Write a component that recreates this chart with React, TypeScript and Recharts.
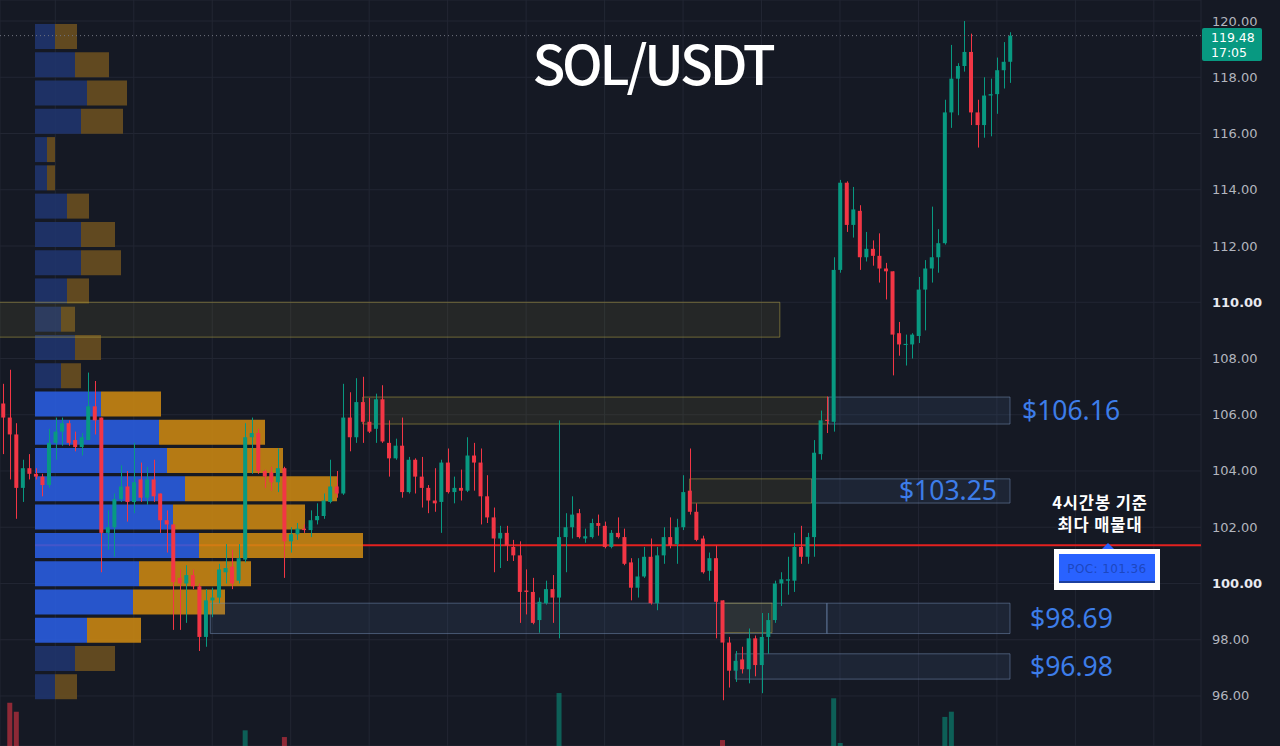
import React from "react";
import { Bar, CartesianGrid, Cell, ComposedChart, ReferenceArea, ReferenceLine, XAxis, YAxis } from "recharts";

// SOL/USDT 4h candles with a volume profile on the left

const W = 1280;
const H = 746;
const AXIS_W = 79;

const UP = "#089981";
const DOWN = "#f23645";
const BG = "#151924";
const GRID = "#222633";

// [open, high, low, close]
const ohlc: [number, number, number, number][] = [
  [106.4, 107.1, 104.6, 105.9], [105.9, 107.6, 103.7, 105.3], [105.3, 105.7, 102.3, 103.4], [103.4, 104.4, 102.9, 104.1],
  [104.1, 104.6, 103.7, 103.9], [103.9, 104.1, 103.7, 103.8], [103.8, 103.9, 103.1, 103.5], [103.5, 105.5, 103.4, 105.0],
  [105.0, 105.9, 104.4, 105.4], [105.4, 105.9, 104.9, 105.7], [105.7, 105.8, 104.9, 105.0], [105.1, 105.4, 104.7, 104.85],
  [104.85, 105.35, 104.55, 105.2], [105.1, 107.5, 105.1, 106.3], [106.3, 107.2, 105.3, 105.8], [105.9, 105.9, 100.4, 101.8],
  [101.8, 102.6, 101.2, 102.0], [102.0, 103.2, 100.95, 103.0], [103.0, 104.2, 102.9, 103.45], [103.45, 104.0, 102.2, 102.9],
  [102.9, 105.0, 102.5, 103.6], [103.7, 104.3, 102.9, 103.05], [103.05, 104.15, 102.8, 103.7], [103.7, 104.4, 102.9, 103.1],
  [103.2, 103.2, 101.8, 102.25], [102.25, 102.6, 101.1, 102.1], [102.1, 102.1, 98.35, 100.05], [100.2, 100.5, 98.35, 100.0],
  [100.0, 100.65, 98.6, 100.3], [100.3, 100.5, 99.8, 99.9], [99.9, 100.0, 97.6, 98.1], [98.1, 99.8, 97.75, 99.4],
  [99.4, 99.85, 98.8, 99.5], [99.5, 100.7, 99.3, 100.5], [100.4, 101.4, 100.0, 100.55], [100.6, 101.2, 99.8, 100.0],
  [100.1, 101.4, 100.0, 100.9], [100.85, 105.7, 100.75, 105.2], [105.2, 105.9, 103.9, 105.35], [105.35, 105.5, 103.9, 104.0],
  [104.0, 104.05, 103.4, 103.8], [103.95, 104.15, 103.3, 103.6], [103.6, 104.8, 103.25, 104.1], [104.1, 104.15, 100.2, 101.5],
  [101.5, 102.0, 101.1, 101.75], [101.75, 102.15, 101.55, 101.95], [101.95, 102.1, 101.8, 101.9], [101.9, 102.6, 101.65, 102.25],
  [102.25, 102.85, 102.1, 102.4], [102.4, 103.2, 102.3, 102.95], [102.9, 104.4, 102.85, 103.45], [103.45, 104.0, 103.05, 103.2],
  [103.2, 107.1, 103.15, 105.9], [105.9, 106.8, 104.7, 105.2], [105.2, 107.3, 105.0, 106.45], [106.45, 107.35, 105.0, 105.75],
  [105.75, 106.6, 105.35, 105.4], [105.5, 106.75, 105.0, 106.55], [106.55, 107.05, 105.0, 105.05], [105.0, 105.8, 103.8, 104.45],
  [104.45, 105.15, 104.4, 104.9], [104.9, 105.9, 103.05, 103.25], [103.25, 104.5, 103.2, 104.4], [104.4, 104.45, 103.2, 103.8],
  [103.8, 104.5, 102.7, 103.4], [103.4, 103.5, 102.5, 102.95], [102.95, 104.1, 102.55, 102.85], [102.9, 104.4, 101.8, 104.3],
  [104.3, 104.8, 103.2, 103.25], [103.25, 103.8, 102.85, 103.4], [103.4, 104.05, 102.95, 103.3], [103.3, 105.2, 103.25, 104.55],
  [104.55, 105.0, 103.3, 104.3], [104.3, 104.8, 102.1, 103.1], [103.1, 103.85, 102.15, 102.35], [102.35, 102.7, 100.4, 101.6],
  [101.6, 102.05, 100.55, 101.8], [101.8, 102.05, 100.8, 101.35], [101.3, 101.55, 100.8, 101.0], [101.0, 101.5, 98.6, 99.7],
  [99.75, 100.5, 98.9, 99.7], [99.7, 100.2, 98.55, 98.6], [98.7, 99.5, 98.25, 99.35], [99.3, 100.1, 99.25, 99.8],
  [99.8, 100.3, 98.6, 99.5], [99.5, 105.8, 98.05, 101.65], [101.65, 102.5, 100.4, 102.0], [102.0, 103.1, 101.6, 102.45],
  [102.5, 102.65, 101.6, 101.65], [101.6, 101.95, 101.45, 101.68], [101.65, 102.3, 101.6, 102.15], [102.15, 102.45, 101.7, 102.05],
  [102.05, 102.2, 101.25, 101.3], [101.3, 101.9, 101.25, 101.8], [101.8, 102.35, 101.6, 101.65], [101.65, 101.95, 100.65, 100.7],
  [100.75, 100.9, 99.4, 99.85], [99.85, 100.9, 99.5, 100.25], [100.25, 101.3, 100.2, 100.95], [100.95, 101.6, 99.25, 99.3],
  [99.3, 101.3, 99.05, 101.0], [101.0, 102.0, 100.7, 101.65], [101.65, 102.35, 101.25, 101.35], [101.4, 102.3, 100.7, 102.0],
  [102.0, 103.85, 101.9, 103.25], [103.3, 104.8, 102.45, 102.55], [102.55, 102.85, 101.5, 101.55], [101.6, 101.7, 100.35, 100.4],
  [100.45, 101.1, 100.1, 100.9], [100.9, 101.35, 98.05, 99.35], [99.4, 99.4, 95.85, 97.9], [97.9, 98.1, 96.3, 96.9],
  [96.9, 97.6, 96.5, 97.25], [97.3, 97.75, 96.8, 96.95], [96.95, 98.4, 96.45, 98.05], [98.05, 98.15, 96.7, 97.1],
  [97.1, 98.95, 96.1, 98.1], [98.1, 98.95, 97.5, 98.7], [98.7, 100.1, 98.6, 100.0], [100.0, 100.4, 99.2, 100.15],
  [100.1, 100.95, 99.6, 100.15], [100.1, 101.8, 99.7, 101.3], [101.3, 102.05, 100.7, 100.95], [100.95, 101.8, 100.7, 101.65],
  [101.65, 105.1, 100.95, 104.65], [104.6, 106.15, 104.4, 105.8], [105.82, 106.65, 105.35, 105.78], [105.75, 111.6, 105.4, 111.15],
  [111.15, 114.35, 111.05, 114.25], [114.25, 114.3, 112.5, 112.75], [112.75, 114.1, 112.3, 113.3], [113.25, 113.45, 111.15, 111.6],
  [111.6, 112.5, 111.45, 111.9], [111.9, 112.2, 111.3, 111.65], [111.65, 112.45, 110.7, 111.2], [111.2, 111.4, 110.1, 111.1],
  [111.1, 111.1, 107.4, 108.85], [108.9, 109.3, 108.1, 108.5], [108.48, 108.85, 107.75, 108.52], [108.5, 108.9, 108.0, 108.85],
  [108.8, 110.9, 108.55, 110.45], [110.45, 111.5, 109.0, 111.2], [111.2, 113.4, 110.7, 111.6], [111.6, 112.6, 111.05, 112.1],
  [112.1, 117.2, 112.05, 116.75], [116.75, 119.15, 116.2, 117.95], [117.95, 118.5, 116.65, 118.4], [118.4, 120.0, 118.2, 118.9],
  [118.9, 119.55, 116.3, 116.75], [116.75, 117.2, 115.5, 116.3], [116.3, 118.0, 115.85, 117.35], [117.35, 117.95, 115.9, 117.4],
  [117.4, 118.7, 116.7, 118.25], [118.25, 119.25, 117.6, 118.55], [118.55, 119.6, 117.8, 119.48],
];

// [candle index, volume] - only the bars tall enough to show at the bottom edge
const volumeSpikes: [number, number][] = [
  [1, 58], [2, 46], [37, 21], [43, 12], [85, 71], [110, 8], [127, 64], [128, 4], [144, 39], [145, 46],
];

const priceTicks = [96, 98, 100, 102, 104, 106, 108, 110, 112, 114, 116, 118, 120];
const timeTicks = [8, 20, 32, 44, 56, 68, 80, 92, 104, 116, 128, 140, 152, 164, 176];

// volume profile, one row per 1.00 price bin, top to bottom
const profileBins = [
  "119-120", "118-119", "117-118", "116-117", "115-116", "114-115", "113-114", "112-113",
  "111-112", "110-111", "109-110", "108-109", "107-108", "106-107", "105-106", "104-105",
  "103-104", "102-103", "101-102", "100-101", "99-100", "98-99", "97-98", "96-97",
];
const profileBuy = [10, 20, 26, 23, 6, 6, 16, 23, 23, 16, 13, 20, 13, 33, 62, 66, 75, 69, 82, 52, 49, 26, 20, 10];
const profileSell = [11, 17, 20, 21, 4, 4, 11, 17, 20, 11, 7, 13, 10, 30, 53, 58, 76, 66, 82, 56, 46, 27, 20, 11];
const valueAreaLow = 98;
const valueAreaHigh = 107;

const pocPrice = 101.36;
const lastPrice = 119.48;
const lastTime = "17:05";

// boxes in candle-index / price units
const zones = [
  { from: -5, to: 118.8, low: 108.76, high: 110.0, kind: "supply", label: "" },
  { from: 55, to: 126.2, low: 105.67, high: 106.63, kind: "supply", label: "" },
  { from: 126.2, to: 154, low: 105.67, high: 106.63, kind: "level", label: "$106.16" },
  { from: 105, to: 123.7, low: 102.86, high: 103.72, kind: "supply", label: "" },
  { from: 123.7, to: 154, low: 102.86, high: 103.72, kind: "level", label: "$103.25" },
  { from: 31.7, to: 126, low: 98.22, high: 99.3, kind: "level", label: "" },
  { from: 110.1, to: 117.6, low: 98.25, high: 99.3, kind: "supply", label: "" },
  { from: 126, to: 154, low: 98.22, high: 99.3, kind: "level", label: "$98.69" },
  { from: 112, to: 154, low: 96.6, high: 97.5, kind: "level", label: "$96.98" },
];
const labelPlacement: Record<string, { position: "right" | "insideRight"; offset: number }> = {
  "$106.16": { position: "right", offset: 12 },
  "$103.25": { position: "insideRight", offset: 13 },
  "$98.69": { position: "right", offset: 20 },
  "$96.98": { position: "right", offset: 20 },
};

const X_DOMAIN: [number, number] = [-0.459, 183.21];
const Y_DOMAIN: [number, number] = [94.222, 120.747];

const rows = ohlc.map(([o, h, l, c], i) => {
  const spike = volumeSpikes.find((s) => s[0] === i);
  return { i, o, h, l, c, vol: spike ? spike[1] : null };
});

const profileData = profileBins.map((bin, k) => {
  const low = Number(bin.split("-")[0]);
  return {
    bin,
    buy: profileBuy[k],
    sell: profileSell[k],
    inVA: low >= valueAreaLow && low < valueAreaHigh,
  };
});

function Candle(props: any) {
  const { x, y, width, height, payload } = props;
  if (!payload) return null;
  const { o, h, l, c } = payload;
  const top = Math.min(y, y + height);
  const span = Math.abs(height);
  const k = h > l ? span / (h - l) : 0;
  const yOf = (v: number) => top + (h - v) * k;
  const color = c >= o ? UP : DOWN;
  const bt = yOf(Math.max(o, c));
  const bb = yOf(Math.min(o, c));
  const cx = Math.round(x + width / 2) + 0.5;
  return (
    <g>
      <line x1={cx} x2={cx} y1={top} y2={top + span} stroke={color} strokeWidth={1} />
      <rect x={x + 0.5} y={bt} width={width - 1} height={Math.max(1, bb - bt)} fill={color} />
    </g>
  );
}

function PriceTick(props: any) {
  const { x, y, payload } = props;
  const v = payload.value as number;
  const strong = v === 100 || v === 110;
  return (
    <text
      x={x}
      y={y}
      dy={4.5}
      textAnchor="start"
      fontFamily="DejaVu Sans"
      fontSize={13}
      fontWeight={strong ? 700 : 400}
      fill={strong ? "#e8eaf0" : "#b2b5be"}
    >
      {v.toFixed(2)}
    </text>
  );
}

const layer: React.CSSProperties = { position: "absolute", left: 0, top: 0 };

export default function App() {
  return (
    <div style={{ position: "absolute", left: 0, top: 0, width: W, height: H, background: BG, overflow: "hidden" }}>
      {/* base: grid, price scale, volume, POC line */}
      <div style={layer}>
        <ComposedChart width={W} height={H} data={rows} margin={{ top: 0, right: 0, bottom: 0, left: 0 }}>
          <CartesianGrid stroke={GRID} />
          <XAxis type="number" dataKey="i" domain={X_DOMAIN} ticks={timeTicks} allowDataOverflow hide />
          <YAxis
            orientation="right"
            width={AXIS_W}
            domain={Y_DOMAIN}
            ticks={priceTicks}
            interval={0}
            allowDataOverflow
            axisLine={false}
            tickLine={false}
            tickSize={0}
            tickMargin={11}
            tick={PriceTick}
          />
          <YAxis yAxisId="vol" domain={[0, 1000]} hide />
          <Bar yAxisId="vol" dataKey="vol" barSize={5} isAnimationActive={false}>
            {rows.map((r) => (
              <Cell key={r.i} fill={r.c >= r.o ? "rgba(8,153,129,0.55)" : "rgba(242,54,69,0.55)"} />
            ))}
          </Bar>
          <ReferenceLine
            segment={[{ x: 4.9, y: pocPrice }, { x: X_DOMAIN[1], y: pocPrice }]}
            stroke="#e3211f"
            strokeWidth={2}
          />
        </ComposedChart>
      </div>

      {/* volume profile */}
      <div style={layer}>
        <ComposedChart
          layout="vertical"
          width={W}
          height={H}
          data={profileData}
          margin={{ top: 22, right: AXIS_W, bottom: 45.5, left: 35 }}
        >
          <XAxis type="number" domain={[0, 583]} allowDataOverflow hide />
          <YAxis type="category" dataKey="bin" hide />
          <Bar dataKey="buy" stackId="vp" barSize={25} fillOpacity={0.86} isAnimationActive={false}>
            {profileData.map((d) => (
              <Cell key={d.bin} fill={d.inVA ? "#2a5fe6" : "#1f3670"} />
            ))}
          </Bar>
          <Bar dataKey="sell" stackId="vp" barSize={25} fillOpacity={0.86} isAnimationActive={false}>
            {profileData.map((d) => (
              <Cell key={d.bin} fill={d.inVA ? "#cf8a12" : "#6e5220"} />
            ))}
          </Bar>
        </ComposedChart>
      </div>

      {/* zones, last price line, candles */}
      <div style={layer}>
        <ComposedChart width={W} height={H} data={rows} margin={{ top: 0, right: AXIS_W, bottom: 0, left: 0 }}>
          <XAxis type="number" dataKey="i" domain={X_DOMAIN} allowDataOverflow hide />
          <YAxis domain={Y_DOMAIN} allowDataOverflow hide />
          {zones.map((z, k) => {
            const place = labelPlacement[z.label];
            return (
              <ReferenceArea
                key={k}
                x1={z.from}
                x2={z.to}
                y1={z.low}
                y2={z.high}
                ifOverflow="hidden"
                fill={z.kind === "supply" ? "rgba(150,140,60,0.13)" : "rgba(80,110,160,0.14)"}
                fillOpacity={1}
                stroke={z.kind === "supply" ? "rgba(190,172,70,0.5)" : "rgba(120,145,185,0.5)"}
                strokeWidth={1}
                label={
                  place
                    ? {
                        value: z.label,
                        position: place.position,
                        offset: place.offset,
                        fill: "#3d7de9",
                        fontSize: 26.5,
                        fontFamily: "Noto Sans",
                      }
                    : undefined
                }
              />
            );
          })}
          <ReferenceLine y={lastPrice} stroke="#70747f" strokeDasharray="1 3" />
          <Bar dataKey={(d: any) => [d.l, d.h]} barSize={5} shape={Candle} isAnimationActive={false} />
        </ComposedChart>
      </div>

      {/* texts */}
      <svg width={W} height={H} style={layer}>
        <text
          x={652.5}
          y={85}
          textAnchor="middle"
          fill="#ffffff"
          fontFamily="Noto Sans CJK KR"
          fontSize={54}
          fontWeight={500}
          letterSpacing={-3.2}
        >
          SOL/USDT
        </text>
        <text x={1100} y={509} textAnchor="middle" fill="#ffffff" fontFamily="Noto Sans CJK KR" fontSize={16.5} fontWeight={700} letterSpacing={0.9}>
          4시간봉 기준
        </text>
        <text x={1100} y={531} textAnchor="middle" fill="#ffffff" fontFamily="Noto Sans CJK KR" fontSize={16.5} fontWeight={700} letterSpacing={0.9}>
          최다 매물대
        </text>
        <polygon points="1102,549 1108,543 1114,549" fill="#2962ff" />
        <rect x={1054} y={549} width={106} height={41} fill="#ffffff" />
        <rect x={1059} y={554} width={96} height={28} fill="#2962ff" />
        <rect x={1059} y={581} width={96} height={2} fill="#1c3f9e" />
        <text x={1107} y={573} textAnchor="middle" fill="#1d47c0" fontFamily="DejaVu Sans" fontSize={12} letterSpacing={0.4}>
          POC: {pocPrice.toFixed(2)}
        </text>
        <rect x={1202} y={28} width={60} height={33} rx={2} fill={UP} />
        <text x={1211} y={42} fill="#ffffff" fontFamily="DejaVu Sans" fontSize={12.5}>
          {lastPrice.toFixed(2)}
        </text>
        <text x={1211} y={57} fill="#ffffff" fontFamily="DejaVu Sans" fontSize={12.5}>
          {lastTime}
        </text>
      </svg>
    </div>
  );
}
